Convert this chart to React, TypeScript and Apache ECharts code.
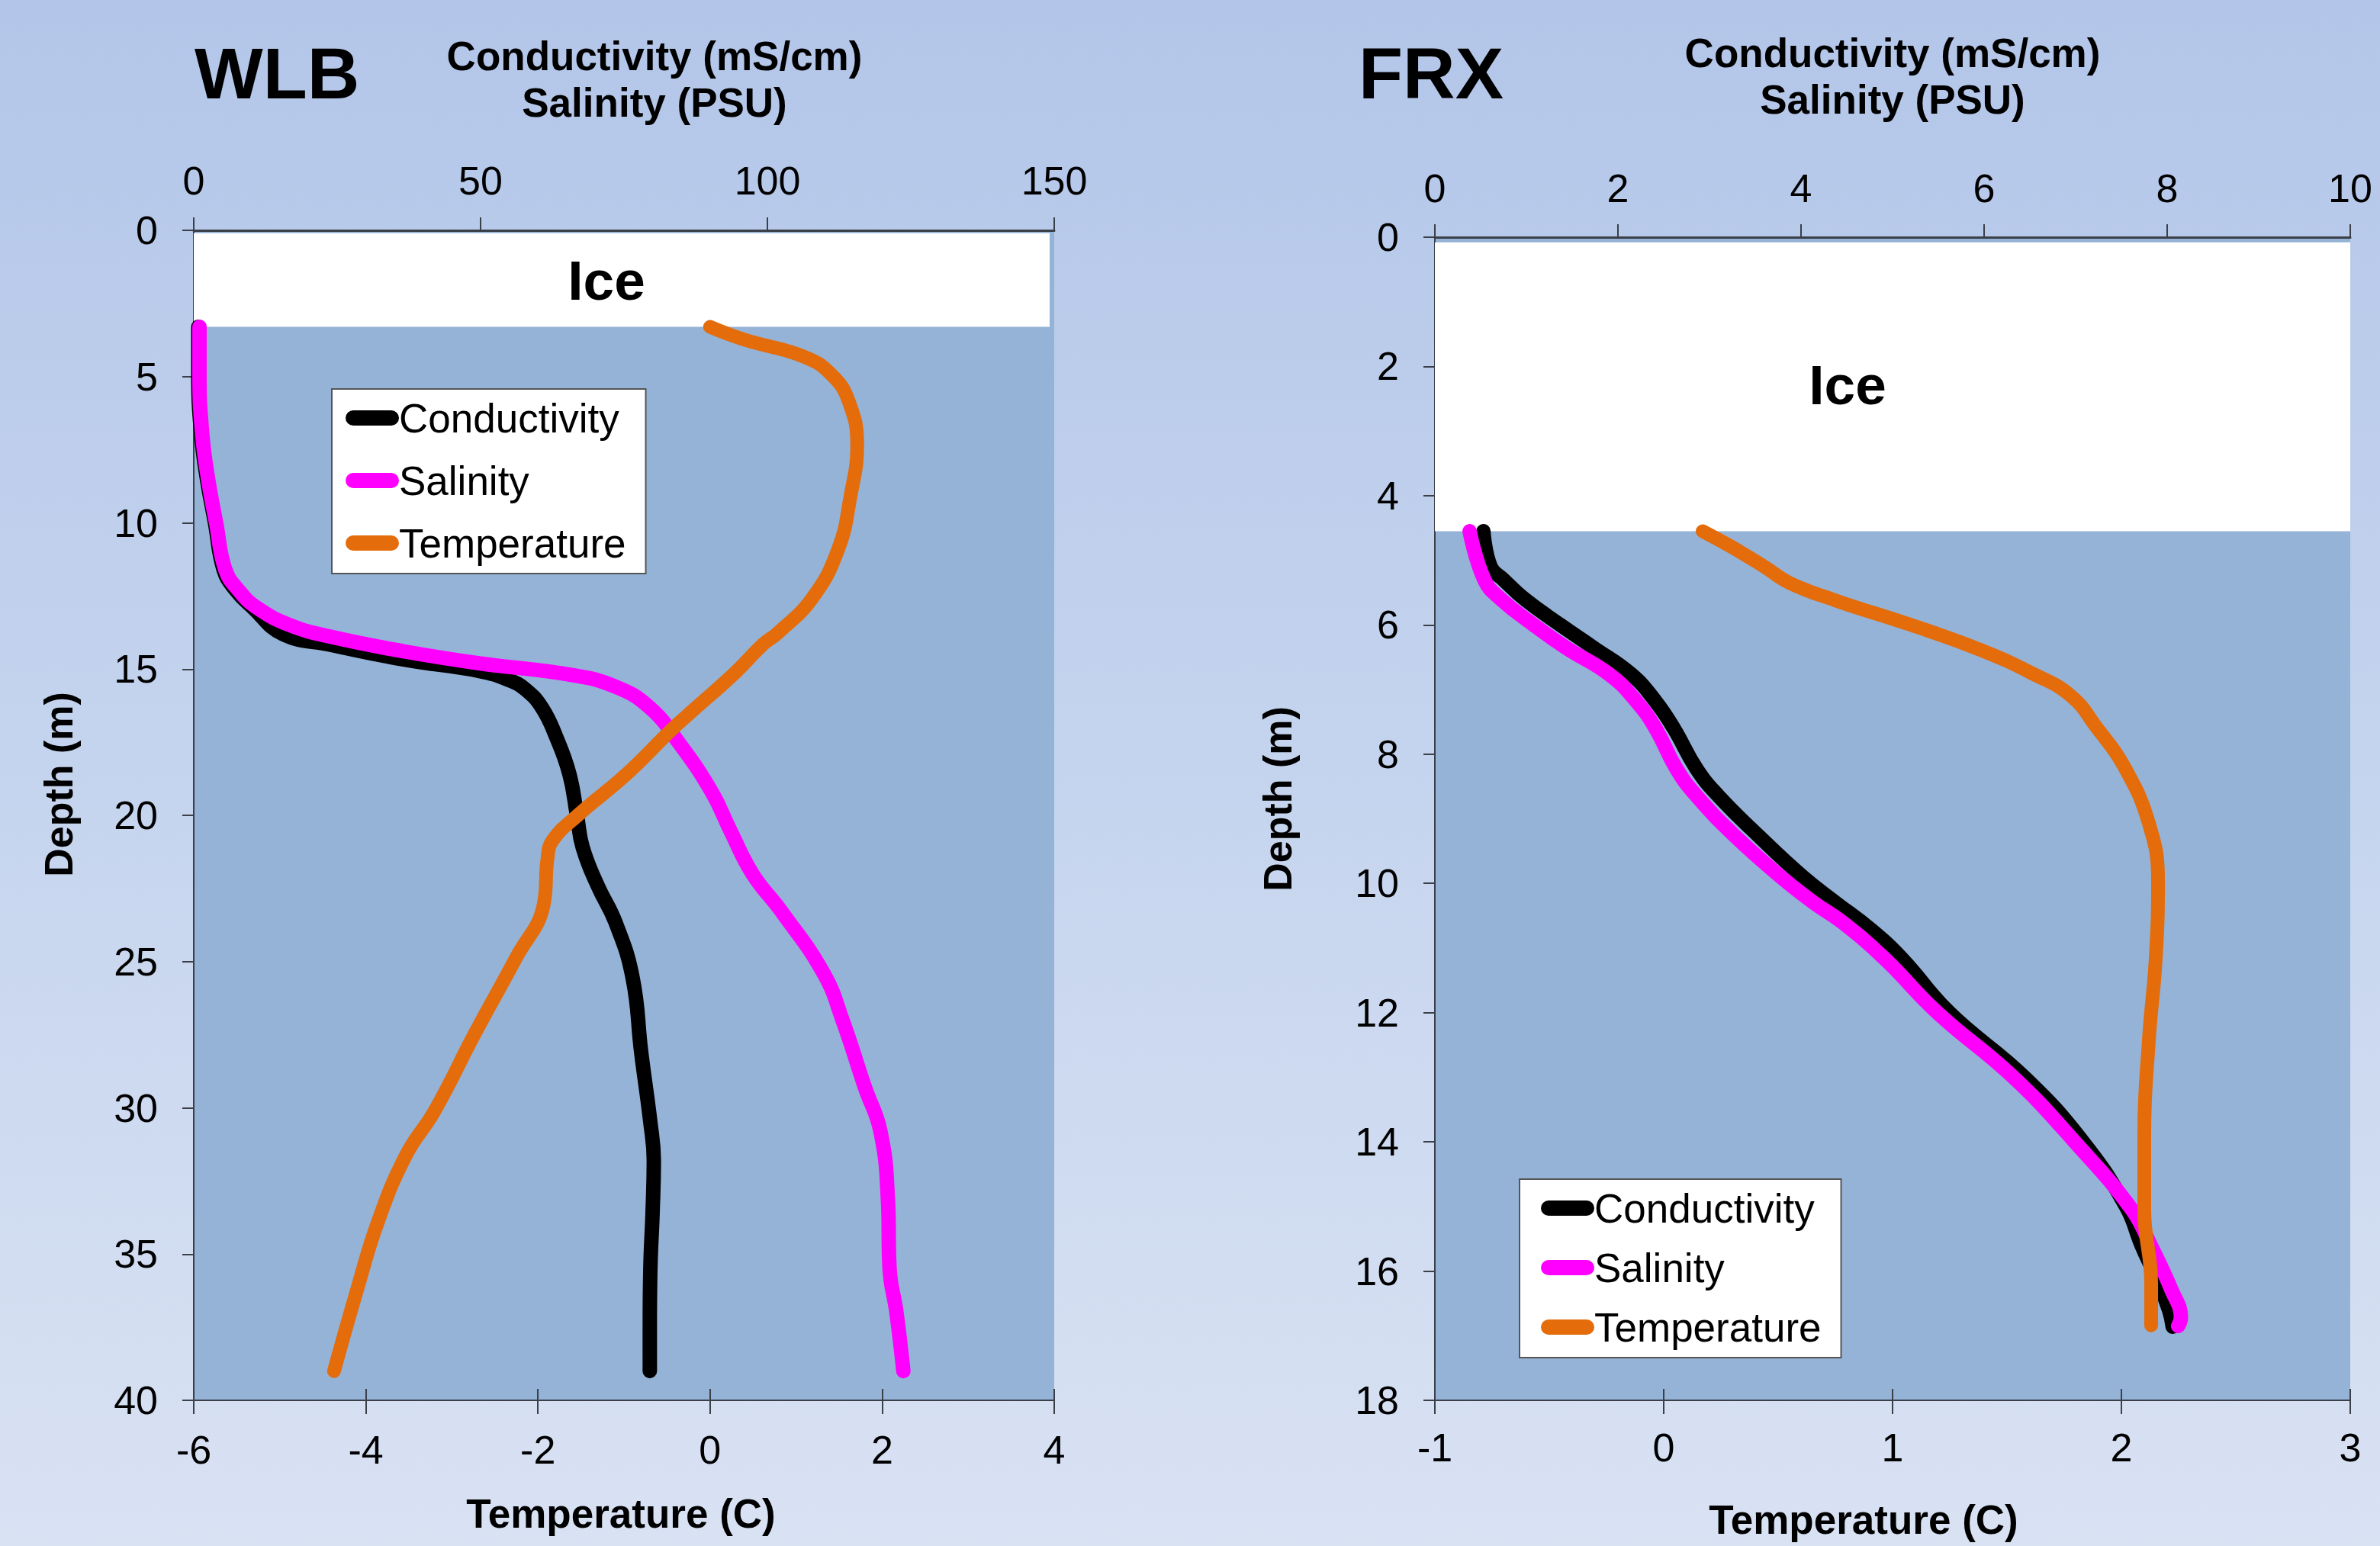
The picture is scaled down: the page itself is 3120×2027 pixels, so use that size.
import React, { useEffect, useRef } from 'react';
import * as echarts from 'echarts';

// ---------- DATA (value, depth in m) ----------
const wlbConductivity: number[][] = [
  [0.8, 3.3], [0.8, 5], [1.3, 7], [2.3, 8.5], [3.7, 10], [5.2, 11.6], [7.3, 12.3], [10.3, 12.9],
  [15.5, 13.8], [23.9, 14.17], [36.8, 14.68], [49.7, 15.06], [54.9, 15.37], [57.8, 15.69],
  [60.7, 16.32], [63.2, 17.33], [65.5, 18.6], [66.8, 20], [67.8, 21.1], [70.4, 22.4], [73.5, 23.65],
  [76.5, 25.55], [78, 28.1], [79.6, 30.5], [80.2, 31.8], [80, 33.5], [79.6, 35.5], [79.5, 37.5], [79.5, 39],
];
const wlbSalinity: number[][] = [
  [1, 3.3], [1, 5], [1.5, 7], [2.5, 8.5], [3.9, 10], [5.5, 11.6], [7.8, 12.3], [11, 12.9], [16.8, 13.5],
  [24, 13.9], [36.8, 14.4], [49.7, 14.8], [65.8, 15.2], [73.5, 15.6], [79.4, 16.3], [84.5, 17.5],
  [90.3, 19.2], [93.5, 20.5], [97.4, 22], [102.5, 23.3], [109.8, 25.4], [113.1, 27], [117, 29.3],
  [119.7, 30.8], [121, 33.1], [121.3, 35.5], [122.5, 37], [123.7, 39],
];
const wlbTemperature: number[][] = [
  [0, 3.3], [0.39, 3.73], [1.1, 4.33], [1.41, 4.93], [1.61, 5.83], [1.71, 7.33], [1.63, 9.13],
  [1.49, 10.9], [1.19, 12.57], [0.79, 13.76], [0.61, 14.17], [0.3, 15.1], [-0.27, 16.6], [-0.45, 17.08],
  [-0.97, 18.59], [-1.53, 19.98], [-1.83, 20.86], [-1.89, 21.5], [-1.93, 23], [-2.26, 24.9],
  [-2.73, 27.44], [-3.2, 30.1], [-3.53, 31.6], [-3.86, 33.9], [-4.1, 36.2], [-4.37, 39],
];

const frxConductivity: number[][] = [
  [0.53, 4.55], [0.61, 5.1], [0.75, 5.3], [0.98, 5.6], [1.37, 6.0], [1.73, 6.35], [2.15, 6.77],
  [2.41, 7.18], [2.61, 7.6], [2.86, 8.23], [3.1, 8.65], [3.54, 9.27], [4.02, 9.9], [4.38, 10.3],
  [4.75, 10.7], [5.1, 11.16], [5.62, 12.0], [6.44, 13.0], [7.08, 14.0], [7.55, 15.0], [7.72, 15.6],
  [7.88, 16.1], [8.02, 16.6], [8.06, 16.86],
];
const frxSalinity: number[][] = [
  [0.38, 4.55], [0.54, 5.3], [0.72, 5.6], [1.08, 6.0], [1.43, 6.35], [1.91, 6.77], [2.2, 7.18],
  [2.41, 7.6], [2.64, 8.23], [2.86, 8.65], [3.28, 9.27], [3.78, 9.9], [4.14, 10.3], [4.45, 10.6],
  [4.91, 11.16], [5.49, 12.0], [6.32, 13.0], [6.99, 14.0], [7.61, 15.04], [7.82, 15.6], [8.05, 16.3],
  [8.15, 16.72], [8.12, 16.85],
];
const frxTemperature: number[][] = [
  [0.17, 4.55], [0.3, 4.8], [0.44, 5.1], [0.55, 5.35], [0.75, 5.62], [1.08, 6.0], [1.38, 6.38],
  [1.61, 6.75], [1.78, 7.1], [1.89, 7.58], [2.01, 8.18], [2.12, 9.07], [2.16, 9.97], [2.15, 11.16],
  [2.12, 12.43], [2.1, 13.87], [2.1, 15.04], [2.13, 16.2], [2.13, 16.84],
];

const wlbIce = { top: 0.1, bottom: 3.3, right: 149.2 };
const frxIce = { top: 0.08, bottom: 4.55, right: 10 };

const seriesNames = ['Conductivity', 'Salinity', 'Temperature'];
const seriesColors = ['#000000', '#FF00FF', '#E46C0A'];

// ---------- STYLE ----------
const FONT = '"Liberation Sans", Arial, sans-serif';
const AXIS_COLOR = '#3a3f48';
const LEGEND_ICON = 'path://M10 0H60A10 10 0 0 1 60 20H10A10 10 0 0 1 10 0Z';

function topAxis(grid: number, min: number, max: number, interval: number, nameGap: number, padLeft: number, margin: number) {
  return {
    type: 'value', gridIndex: grid, position: 'top', min, max, interval,
    name: 'Conductivity (mS/cm)\nSalinity (PSU)', nameLocation: 'middle', nameGap,
    nameTextStyle: { fontFamily: FONT, fontSize: 53, fontWeight: 'bold', color: '#000', lineHeight: 61, padding: [0, 0, 0, padLeft] },
    axisLine: { show: true, lineStyle: { color: AXIS_COLOR, width: 3 } },
    axisTick: { show: true, inside: false, length: 17, lineStyle: { color: AXIS_COLOR, width: 2 } },
    axisLabel: { fontFamily: FONT, fontSize: 52, color: '#000', margin },
    splitLine: { show: false },
  };
}
function bottomAxis(grid: number, min: number, max: number, interval: number, nameGap: number, padRight: number, margin: number) {
  return {
    type: 'value', gridIndex: grid, position: 'bottom', min, max, interval,
    name: 'Temperature (C)', nameLocation: 'middle', nameGap,
    nameTextStyle: { fontFamily: FONT, fontSize: 53, fontWeight: 'bold', color: '#000', lineHeight: 60, padding: [0, padRight, 0, 0] },
    axisLine: { show: true, lineStyle: { color: AXIS_COLOR, width: 2 } },
    axisTick: { show: true, inside: false, length: 18, lineStyle: { color: AXIS_COLOR, width: 2 } },
    axisLabel: { fontFamily: FONT, fontSize: 52, color: '#000', margin },
    splitLine: { show: false },
  };
}
function innerTicks(grid: number, min: number, max: number, interval: number) {
  return {
    type: 'value', gridIndex: grid, position: 'bottom', min, max, interval,
    axisLine: { show: false },
    axisTick: { show: true, inside: true, length: 15, lineStyle: { color: AXIS_COLOR, width: 2 } },
    axisLabel: { show: false },
    splitLine: { show: false },
  };
}
function depthAxis(grid: number, max: number, interval: number, nameGap: number, padLeft: number) {
  return {
    type: 'value', gridIndex: grid, inverse: true, min: 0, max, interval,
    name: 'Depth (m)', nameLocation: 'middle', nameRotate: 90, nameGap,
    nameTextStyle: { fontFamily: FONT, fontSize: 52, fontWeight: 'bold', color: '#000', lineHeight: 52, padding: [0, 0, 0, padLeft] },
    axisLine: { show: true, lineStyle: { color: AXIS_COLOR, width: 2 } },
    axisTick: { show: true, inside: false, length: 15, lineStyle: { color: AXIS_COLOR, width: 2 } },
    axisLabel: { fontFamily: FONT, fontSize: 52, color: '#000', margin: 47 },
    splitLine: { show: false },
  };
}

function lineSeries(idx: number, data: number[][], xAxisIndex: number, yAxisIndex: number, extra: any = {}) {
  const color = seriesColors[idx];
  return {
    name: seriesNames[idx], type: 'line', xAxisIndex, yAxisIndex, data,
    symbol: 'none', smooth: 0.45, silent: true,
    color,
    itemStyle: { color },
    lineStyle: { color, width: idx === 2 ? 18 : 19, cap: 'round', join: 'round' },
    emphasis: { disabled: true },
    ...extra,
  };
}

function iceArea(ice: { top: number; bottom: number; right: number }, offset: number[]) {
  return {
    markArea: {
      silent: true,
      itemStyle: { color: '#ffffff', opacity: 1, borderWidth: 0 },
      label: { show: true, position: 'inside', fontFamily: FONT, fontSize: 73, fontWeight: 'bold', color: '#000', offset },
      data: [[{ name: 'Ice', xAxis: 0, yAxis: ice.top }, { xAxis: ice.right, yAxis: ice.bottom }]],
    },
  };
}

function legend(left: number, top: number, itemGap: number, padLeft: number) {
  return {
    orient: 'vertical', left, top, itemGap,
    data: seriesNames, selectedMode: false,
    icon: LEGEND_ICON, itemWidth: 70, itemHeight: 20,
    itemStyle: { borderWidth: 0 },
    padding: [8, 26, 10, padLeft],
    backgroundColor: '#ffffff', borderColor: '#555555', borderWidth: 2, borderRadius: 0,
    textStyle: { fontFamily: FONT, fontSize: 53, color: '#000', lineHeight: 60, padding: [0, 0, 0, -5] },
  };
}

export default function App() {
  const ref = useRef<HTMLDivElement>(null);
  useEffect(() => {
    const chart = echarts.init(ref.current!, null, { renderer: 'svg' });
    const option: any = {
      animation: false,
      backgroundColor: 'transparent',
      grid: [
        { left: 254, top: 302, width: 1128, height: 1534, show: true, backgroundColor: '#95B3D7', borderWidth: 0 },
        { left: 1881, top: 311, width: 1200, height: 1540, show: true, backgroundColor: '#95B3D7', borderWidth: 0 },
      ],
      xAxis: [
        topAxis(0, 0, 150, 50, 137, 80, 39),
        bottomAxis(0, -6, 4, 2, 118, 8, 39),
        innerTicks(0, -6, 4, 2),
        topAxis(1, 0, 10, 2, 150, 0, 38),
        bottomAxis(1, -1, 3, 1, 126, 76, 36),
        innerTicks(1, -1, 3, 1),
      ],
      yAxis: [
        depthAxis(0, 40, 5, 151, 81),
        depthAxis(1, 18, 2, 180, 52),
      ],
      legend: [legend(435, 510, 22, 18), legend(1992, 1546, 18, 28)],
      graphic: [
        { type: 'text', x: 255, y: 96, silent: true, style: { text: 'WLB', fontFamily: FONT, fontSize: 95, fontWeight: 'bold', fill: '#000', verticalAlign: 'middle', align: 'left' } },
        { type: 'text', x: 1781, y: 96, silent: true, style: { text: 'FRX', fontFamily: FONT, fontSize: 95, fontWeight: 'bold', fill: '#000', verticalAlign: 'middle', align: 'left' } },
      ],
      series: [
        lineSeries(0, wlbConductivity, 0, 0, iceArea(wlbIce, [-20, 0])),
        lineSeries(1, wlbSalinity, 0, 0),
        lineSeries(2, wlbTemperature, 1, 0),
        lineSeries(0, frxConductivity, 3, 1, iceArea(frxIce, [-59, -3])),
        lineSeries(1, frxSalinity, 3, 1),
        lineSeries(2, frxTemperature, 4, 1),
      ],
    };
    chart.setOption(option);
    return () => chart.dispose();
  }, []);
  return (
    <div
      ref={ref}
      style={{
        position: 'fixed', left: 0, top: 0, width: 3120, height: 2027,
        background: 'linear-gradient(to bottom, #B3C6E9 0%, #C5D4EE 50%, #D9E2F3 100%)',
      }}
    />
  );
}
